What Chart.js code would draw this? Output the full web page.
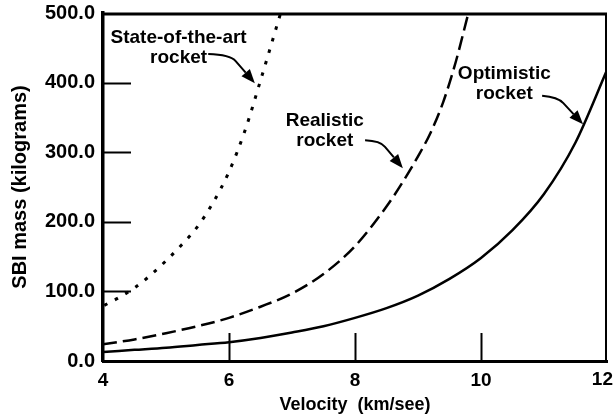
<!DOCTYPE html>
<html>
<head>
<meta charset="utf-8">
<script src="https://cdn.jsdelivr.net/npm/chart.js@4"></script>
<style>
  html, body { margin: 0; padding: 0; background: #fff; }
  #wrap { width: 615px; height: 418px; }
</style>
</head>
<body>
<div id="wrap"><canvas id="c" width="615" height="418"></canvas></div>
<script>
// ---- Data ----
const velocityTicks = [4, 6, 8, 10, 12];
const massTicks = [0, 100, 200, 300, 400, 500];

const optimisticVelocity = [4, 4.5, 5, 5.5, 6, 6.5, 7, 7.5, 8, 8.5, 9, 9.5, 10, 10.5, 11, 11.5, 12];
const optimisticMass     = [13, 16, 19, 23, 27, 33, 41, 50, 62, 76, 94, 118, 148, 188, 240, 314, 418];

const realisticVelocity = [4, 4.5, 5, 5.5, 6, 6.5, 7, 7.5, 8, 8.5, 8.75, 9, 9.2, 9.4, 9.6, 9.8];
const realisticMass     = [24, 31, 40, 50, 62, 78, 97, 125, 165, 222, 256, 294, 328, 372, 430, 500];

const stateVelocity = [4.02, 4.25, 4.5, 4.75, 5, 5.25, 5.5, 5.75, 6, 6.25, 6.5, 6.82];
const stateMass     = [80, 91, 105, 123, 144, 167, 193, 228, 272, 330, 403, 500];

const seriesNames = ['Optimistic rocket', 'Realistic rocket', 'State-of-the-art rocket'];

function toPoints(xs, ys) { return xs.map((x, i) => ({ x: x, y: ys[i] })); }

const FONT = '"Liberation Sans", Arial, Helvetica, sans-serif';
const LAST_X = velocityTicks[velocityTicks.length - 1];

// ---- Plugin: frame, inward tick marks, last x label, callout labels with arrows ----
const decorPlugin = {
  id: 'decor',
  afterDatasetsDraw(chart, args, opts) {
    const ctx = chart.ctx;
    const xs = chart.scales.x, ys = chart.scales.y;
    const a = chart.chartArea;
    ctx.save();
    ctx.strokeStyle = '#000';
    ctx.lineCap = 'butt';
    // top and right frame lines
    ctx.lineWidth = 3;
    ctx.beginPath();
    ctx.moveTo(a.left, a.top + 1);
    ctx.lineTo(a.right, a.top + 1);
    ctx.stroke();
    ctx.lineWidth = 2;
    ctx.beginPath();
    ctx.moveTo(a.right - 1, a.top);
    ctx.lineTo(a.right - 1, a.bottom);
    ctx.stroke();
    // inward tick marks
    ctx.lineWidth = 2;
    massTicks.slice(1, -1).forEach(v => {
      const py = Math.round(ys.getPixelForValue(v)) + 0.5;
      ctx.beginPath();
      ctx.moveTo(a.left, py);
      ctx.lineTo(a.left + 28, py);
      ctx.stroke();
    });
    velocityTicks.slice(1, -1).forEach(v => {
      const px = Math.round(xs.getPixelForValue(v)) + 0.5;
      ctx.beginPath();
      ctx.moveTo(px, a.bottom);
      ctx.lineTo(px, a.bottom - 28);
      ctx.stroke();
    });
    // last x tick label, kept inside the canvas (as in the reference)
    ctx.fillStyle = '#000';
    ctx.font = 'bold 19px ' + FONT;
    ctx.textAlign = 'right';
    ctx.textBaseline = 'top';
    ctx.fillText(String(LAST_X), xs.getPixelForValue(LAST_X) + 6, a.bottom + 9.5);
    // callouts
    ctx.textAlign = 'center';
    ctx.textBaseline = 'middle';
    (opts.callouts || []).forEach(c => {
      c.lines.forEach((t, i) => {
        ctx.fillText(t, xs.getPixelForValue(c.text[0]), ys.getPixelForValue(c.text[1]) + i * 20);
      });
      const s = [xs.getPixelForValue(c.start[0]), ys.getPixelForValue(c.start[1])];
      const b = [xs.getPixelForValue(c.bend[0]), ys.getPixelForValue(c.bend[1])];
      const t = [xs.getPixelForValue(c.tip[0]), ys.getPixelForValue(c.tip[1])];
      const ang = Math.atan2(t[1] - b[1], t[0] - b[0]);
      const headLen = 14, headW = 5.5;
      const base = [t[0] - headLen * Math.cos(ang), t[1] - headLen * Math.sin(ang)];
      ctx.lineWidth = 2;
      ctx.lineJoin = 'round';
      ctx.beginPath();
      ctx.moveTo(s[0], s[1]);
      ctx.quadraticCurveTo(b[0], b[1], b[0] + (base[0] - b[0]) * 0.35, b[1] + (base[1] - b[1]) * 0.35);
      ctx.lineTo(base[0], base[1]);
      ctx.stroke();
      ctx.beginPath();
      ctx.moveTo(t[0], t[1]);
      ctx.lineTo(base[0] + headW * Math.sin(ang), base[1] - headW * Math.cos(ang));
      ctx.lineTo(base[0] - headW * Math.sin(ang), base[1] + headW * Math.cos(ang));
      ctx.closePath();
      ctx.fill();
    });
    ctx.restore();
  }
};

new Chart(document.getElementById('c'), {
  type: 'line',
  data: {
    datasets: [
      {
        label: seriesNames[0],
        data: toPoints(optimisticVelocity, optimisticMass),
        borderColor: '#000', borderWidth: 2.5, pointRadius: 0,
        cubicInterpolationMode: 'monotone', fill: false
      },
      {
        label: seriesNames[1],
        data: toPoints(realisticVelocity, realisticMass),
        borderColor: '#000', borderWidth: 2.5, pointRadius: 0,
        borderDash: [14, 6],
        cubicInterpolationMode: 'monotone', fill: false
      },
      {
        label: seriesNames[2],
        data: toPoints(stateVelocity, stateMass),
        borderColor: '#000', borderWidth: 3, pointRadius: 0,
        borderDash: [3.5, 8.5],
        cubicInterpolationMode: 'monotone', fill: false
      }
    ]
  },
  options: {
    responsive: false,
    animation: false,
    layout: { padding: { top: 13, right: 8, left: 0, bottom: 0 } },
    plugins: {
      legend: { display: false },
      tooltip: { enabled: false },
      decor: {
        callouts: [
          { lines: ['State-of-the-art', 'rocket'], text: [5.2, 465], start: [5.67, 441], bend: [6.02, 440], tip: [6.41, 399] },
          { lines: ['Realistic', 'rocket'], text: [7.52, 345], start: [8.16, 317], bend: [8.4, 316], tip: [8.76, 277] },
          { lines: ['Optimistic', 'rocket'], text: [10.37, 412], start: [10.97, 381], bend: [11.22, 379], tip: [11.62, 340] }
        ]
      }
    },
    scales: {
      x: {
        type: 'linear', min: 4, max: 12,
        afterFit(scale) {
          scale.height = 57;
          scale.paddingLeft = 0; scale.paddingRight = 0;
        },
        afterBuildTicks(scale) { scale.ticks = velocityTicks.map(v => ({ value: v })); },
        ticks: {
          color: '#000', padding: 8,
          font: { family: FONT, size: 19, weight: 'bold' },
          maxRotation: 0,
          callback: v => (v === LAST_X ? '' : String(v))
        },
        grid: { display: false, drawTicks: false },
        border: { display: true, color: '#000', width: 3 },
        title: {
          display: true, text: 'Velocity  (km/see)', color: '#000',
          font: { family: FONT, size: 18, weight: 'bold' },
          padding: { top: 0, bottom: 2 }
        }
      },
      y: {
        min: 0, max: 500,
        afterFit(scale) {
          scale.width = 103;
          scale.paddingTop = 0; scale.paddingBottom = 0;
        },
        afterBuildTicks(scale) { scale.ticks = massTicks.map(v => ({ value: v })); },
        ticks: {
          color: '#000', padding: 8,
          font: { family: FONT, size: 20, weight: 'bold' },
          callback: v => Number(v).toFixed(1)
        },
        grid: { display: false, drawTicks: false },
        border: { display: true, color: '#000', width: 3.5 },
        title: {
          display: true, text: 'SBI mass (kilograms)', color: '#000',
          font: { family: FONT, size: 20, weight: 'bold' },
          padding: { top: 8, bottom: 0 }
        }
      }
    }
  },
  plugins: [decorPlugin]
});
</script>
</body>
</html>
